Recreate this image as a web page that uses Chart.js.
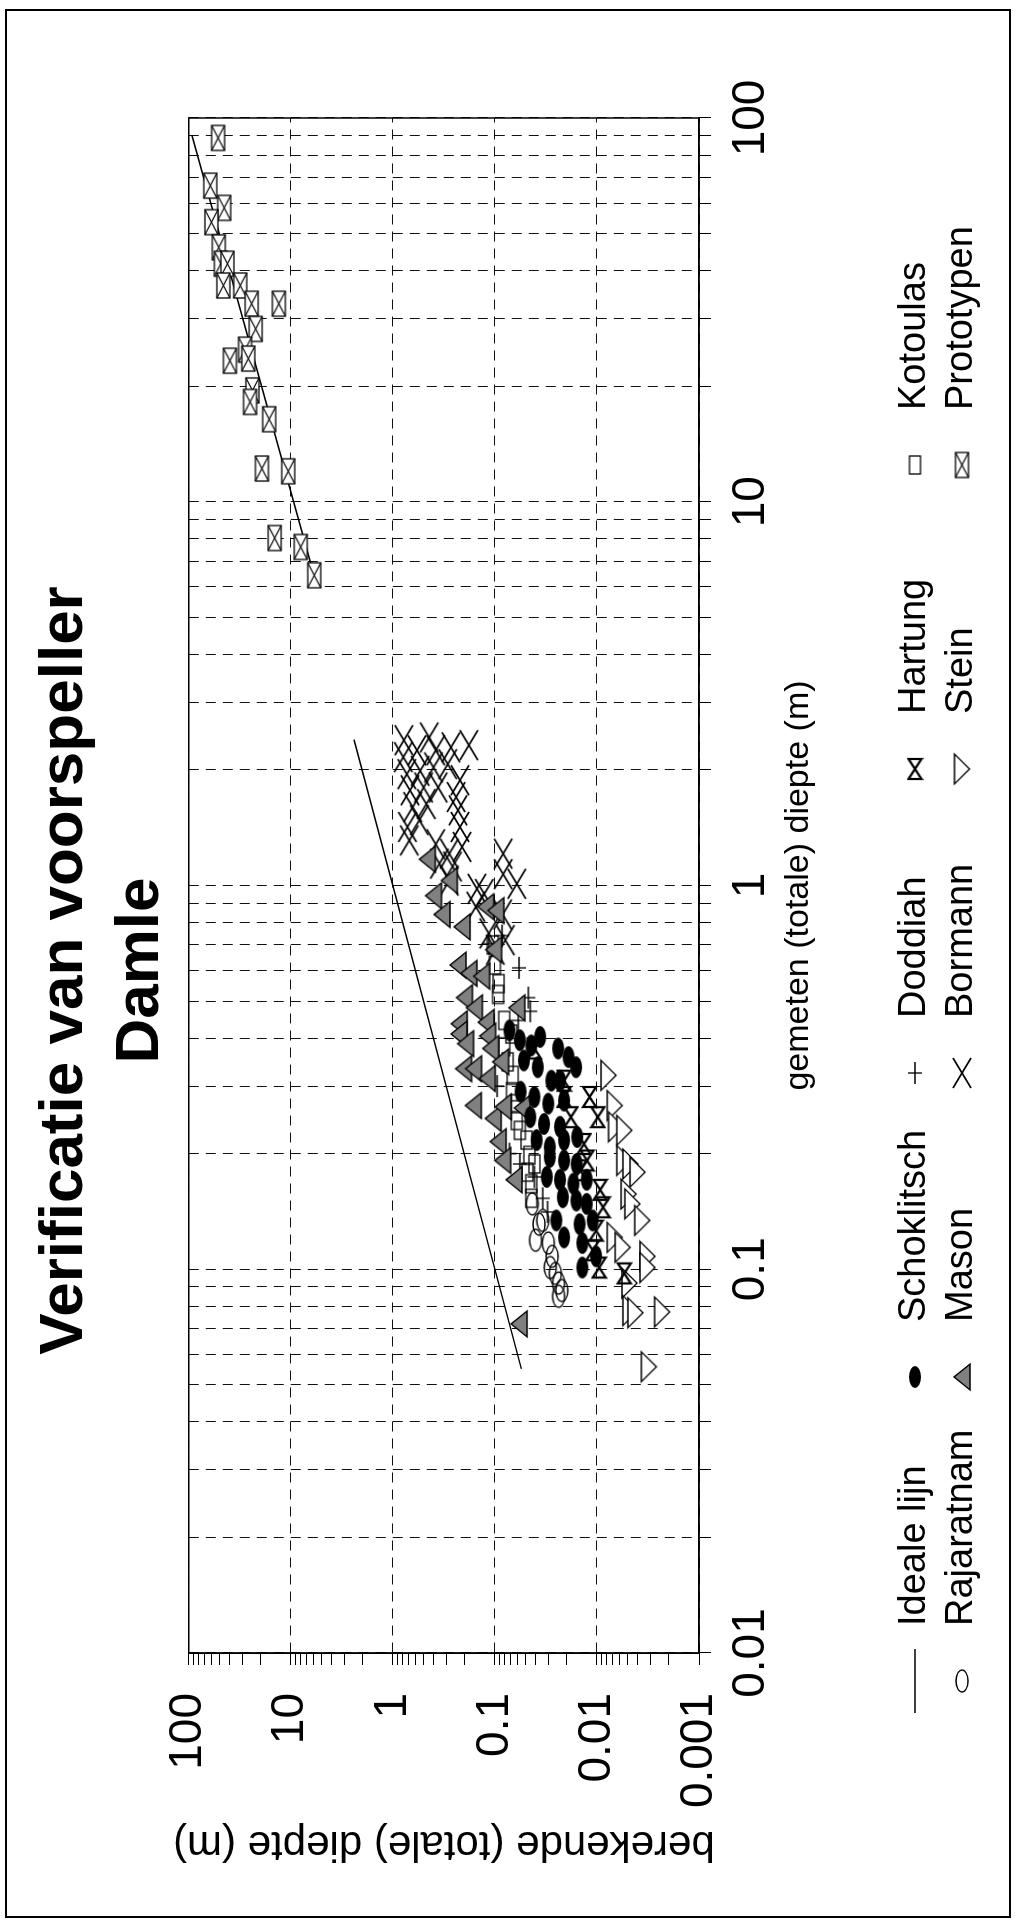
<!DOCTYPE html>
<html>
<head>
<meta charset="utf-8">
<script src="https://cdn.jsdelivr.net/npm/chart.js@4.4.0/dist/chart.umd.min.js"></script>
<style>
  html, body { margin: 0; padding: 0; background: #fff; overflow: hidden; }
  /* the chart is drawn landscape and turned a quarter to the left, like the scanned page */
  #page { position: absolute; left: 0; top: 0; width: 1923px; height: 1017px;
          transform-origin: 0 0; transform: translate(0, 1923px) rotate(-90deg); }
</style>
</head>
<body>
<div id="page"><canvas id="myChart" width="1923" height="1017"></canvas></div>
<script>
// axes
const xDecades = [0.01, 0.1, 1, 10, 100];
const xTickLabels = ['0.01', '0.1', '1', '10', '100'];
const yDecades = [0.001, 0.01, 0.1, 1, 10, 100];
const yTickLabels = ['0.001', '0.01', '0.1', '1', '10', '100'];
const minorSteps = [1, 2, 3, 4, 5, 6, 7, 8, 9];

// data (gemeten x, berekende y)
const idealeX = [0.055, 2.4];
const idealeY = [0.055, 2.4];

const rajaratnamX = [0.148, 0.131, 0.119, 0.117, 0.108, 0.0975, 0.092, 0.088, 0.085, 0.134, 0.101];
const rajaratnamY = [0.043, 0.037, 0.040, 0.030, 0.0275, 0.0256, 0.0238, 0.0221, 0.0238, 0.034, 0.0287];

const schoklitschX = [0.419, 0.395, 0.383, 0.403, 0.376, 0.357, 0.336, 0.35, 0.336, 0.31, 0.31, 0.29, 0.281, 0.27, 0.275,
  0.249, 0.239, 0.235, 0.217, 0.208, 0.217, 0.221, 0.196, 0.192, 0.188, 0.174, 0.171, 0.167, 0.171, 0.154, 0.151, 0.148,
  0.134, 0.121, 0.131, 0.134, 0.117, 0.101, 0.108];
const schoklitschY = [0.072, 0.057, 0.044, 0.036, 0.024, 0.019, 0.016, 0.052, 0.038, 0.028, 0.023, 0.056, 0.041, 0.030, 0.021,
  0.045, 0.033, 0.023, 0.039, 0.029, 0.021, 0.0156, 0.029, 0.021, 0.0158, 0.031, 0.023, 0.017, 0.0126, 0.0216, 0.0159, 0.0126,
  0.025, 0.021, 0.0148, 0.011, 0.0139, 0.0139, 0.0102];

const masonX = [1.17, 1.03, 0.94, 0.84, 0.78, 0.88, 0.86, 0.62, 0.68, 0.59, 0.58,
  0.51, 0.48, 0.436, 0.44, 0.48, 0.41, 0.387, 0.405, 0.376, 0.333, 0.333, 0.314, 0.347, 0.267, 0.247, 0.265, 0.263,
  0.215, 0.192, 0.171, 0.072];
const masonY = [0.46, 0.28, 0.40, 0.33, 0.21, 0.123, 0.098, 0.23, 0.103, 0.18, 0.135,
  0.199, 0.159, 0.224, 0.122, 0.061, 0.225, 0.194, 0.118, 0.11, 0.203, 0.162, 0.119, 0.088, 0.163, 0.104, 0.083, 0.054,
  0.093, 0.084, 0.065, 0.058];

const doddiahX = [0.74, 0.61, 0.705, 0.47, 0.30, 0.20, 0.188, 0.174, 0.153, 0.141, 0.51, 0.445];
const doddiahY = [0.085, 0.058, 0.115, 0.045, 0.095, 0.072, 0.057, 0.041, 0.034, 0.0305, 0.047, 0.059];

const bormannX = [2.39, 2.43, 2.16, 2.25, 2.25, 2.29, 2.32, 1.95, 1.99, 2.03, 2.07, 1.88, 1.77, 1.80, 1.80, 1.70, 1.60, 1.63,
  1.57, 1.42, 1.48, 1.42, 1.31, 1.28, 1.21, 1.26, 1.14, 1.12, 1.03, 0.98, 0.95, 1.21, 1.07, 1.01, 0.88, 0.84, 0.75, 0.72, 0.68];
const bormannY = [0.78, 0.44, 0.79, 0.58, 0.38, 0.27, 0.18, 0.73, 0.54, 0.40, 0.29, 0.22, 0.68, 0.50, 0.36, 0.24, 0.64, 0.47,
  0.23, 0.72, 0.55, 0.22, 0.69, 0.38, 0.28, 0.21, 0.35, 0.26, 0.28, 0.15, 0.127, 0.083, 0.083, 0.061, 0.154, 0.084, 0.115, 0.079, 0.099];

const hartungX = [0.281, 0.249, 0.212, 0.192, 0.161, 0.145, 0.126, 0.112, 0.101, 0.0975, 0.181, 0.31, 0.376, 0.281, 0.249];
const hartungY = [0.021, 0.018, 0.0134, 0.0125, 0.0093, 0.0087, 0.0102, 0.011, 0.0095, 0.0054, 0.0146, 0.021, 0.041, 0.0118, 0.0098];

const steinX = [0.32, 0.267, 0.235, 0.23, 0.192, 0.188, 0.179, 0.157, 0.148, 0.134, 0.121, 0.114, 0.108, 0.101, 0.092,
  0.078, 0.077, 0.0774, 0.0557];
const steinY = [0.0077, 0.0067, 0.0065, 0.0054, 0.0054, 0.0047, 0.004, 0.0049, 0.0045, 0.0036, 0.0067, 0.0056, 0.0032, 0.0032, 0.0048,
  0.0047, 0.0042, 0.0023, 0.0031];

const kotoulasX = [0.52, 0.445, 0.41, 0.38, 0.347, 0.32, 0.29, 0.27, 0.23, 0.217, 0.198, 0.188, 0.179, 0.167, 0.153, 0.244,
  0.70, 0.62, 0.555];
const kotoulasY = [0.093, 0.081, 0.069, 0.081, 0.075, 0.067, 0.068, 0.061, 0.057, 0.049, 0.046, 0.041, 0.048, 0.044, 0.044, 0.061,
  0.105, 0.10, 0.092];

const prototypenX = [88.7, 66.6, 58.3, 53.5, 46, 41.7, 41.7, 36.6, 36.6, 32.8, 32.8, 28.2, 23.3, 24.9, 23.6, 19.5, 18.2, 16.4,
  12.2, 12.0, 8.04, 7.62, 6.43];
const prototypenY = [51.6, 61.5, 45, 60, 50.8, 48.5, 41.8, 45.8, 31.3, 24.2, 13.1, 22.1, 39.5, 28.1, 26.1, 23.8, 25.1, 16.3,
  19.2, 10.6, 14.4, 8.0, 5.9];
const prototypenTrendX = [6.4, 90];
const prototypenTrendY = [5.9, 93];

// helpers
const pairs = (xs, ys) => xs.map((x, i) => ({ x: x, y: ys[i] }));
function logTicks(decades) {
  const max = decades[decades.length - 1];
  const out = [];
  decades.forEach(d => minorSteps.forEach(m => {
    const v = +(d * m).toPrecision(3);
    if (v <= max) out.push({ value: v, major: m === 1 });
  }));
  return out;
}
function decadeLabel(value, decades, labels) {
  const i = decades.findIndex(d => Math.abs(d - value) < d * 1e-6);
  return i >= 0 ? labels[i] : '';
}

// markers, drawn the way they lie before the page is turned
function makeMarker(w, h, draw) {
  const c = document.createElement('canvas');
  c.width = w + 4;
  c.height = h + 4;
  const g = c.getContext('2d');
  g.translate(c.width / 2, c.height / 2);
  g.strokeStyle = '#000';
  g.fillStyle = '#000';
  g.lineWidth = 1.3;
  draw(g, w / 2, h / 2);
  return c;
}
const markers = {
  dot: makeMarker(22, 12, (g, a, b) => { g.beginPath(); g.ellipse(0, 0, a, b, 0, 0, Math.PI * 2); g.fill(); }),
  ring: makeMarker(24, 14, (g, a, b) => { g.beginPath(); g.ellipse(0, 0, a - 1, b - 1, 0, 0, Math.PI * 2); g.stroke(); }),
  shaded: makeMarker(26, 16, (g, a, b) => {
    g.beginPath(); g.moveTo(0, -b); g.lineTo(a, b); g.lineTo(-a, b); g.closePath();
    g.fillStyle = '#808080'; g.fill(); g.stroke();
  }),
  plus: makeMarker(22, 14, (g, a, b) => { g.beginPath(); g.moveTo(-a, 0); g.lineTo(a, 0); g.moveTo(0, -b); g.lineTo(0, b); g.stroke(); }),
  cross: makeMarker(30, 18, (g, a, b) => {
    g.lineWidth = 1.7;
    g.beginPath(); g.moveTo(-a, -b); g.lineTo(a, b); g.moveTo(a, -b); g.lineTo(-a, b); g.stroke();
  }),
  bowtie: makeMarker(20, 13, (g, a, b) => {
    g.lineWidth = 2.2;
    g.beginPath(); g.moveTo(-a, -b); g.lineTo(a, b); g.lineTo(a, -b); g.lineTo(-a, b); g.closePath(); g.stroke();
  }),
  openTri: makeMarker(30, 15, (g, a, b) => {
    g.beginPath(); g.moveTo(-a, -b); g.lineTo(a, -b); g.lineTo(0, b); g.closePath();
    g.fillStyle = '#fff'; g.fill(); g.stroke();
  }),
  square: makeMarker(18, 11, (g, a, b) => { g.strokeRect(-a, -b, 2 * a, 2 * b); }),
  boxCross: makeMarker(25, 13, (g, a, b) => {
    g.fillStyle = '#fff'; g.fillRect(-a, -b, 2 * a, 2 * b); g.strokeRect(-a, -b, 2 * a, 2 * b);
    g.beginPath(); g.moveTo(-a, -b); g.lineTo(a, b); g.moveTo(a, -b); g.lineTo(-a, b); g.stroke();
  })
};

const fontFamily = '"Liberation Sans", Arial, sans-serif';
Chart.defaults.font.family = fontFamily;
Chart.defaults.color = '#000';

// legend in two rows, filled column by column
const columnLegend = {
  id: 'columnLegend',
  afterDraw(chart) {
    const c = chart.ctx;
    const items = chart.data.datasets.filter(d => !d.noLegend);
    c.save();
    c.font = '38px ' + fontFamily;
    c.textBaseline = 'middle';
    c.fillStyle = '#000';
    items.forEach((ds, i) => {
      const sx = 242 + Math.floor(i / 2) * 304;
      const sy = i % 2 === 0 ? 915 : 962;
      if (ds.showLine) {
        c.strokeStyle = '#000';
        c.lineWidth = 1.5;
        c.beginPath(); c.moveTo(sx - 32, sy); c.lineTo(sx + 32, sy); c.stroke();
      } else {
        const img = ds.pointStyle;
        c.drawImage(img, sx - img.width / 2, sy - img.height / 2);
      }
      c.fillText(ds.label, sx + 55, sy);
    });
    c.restore();
  }
};

// plot box and page frame
const frames = {
  id: 'frames',
  afterDraw(chart) {
    const c = chart.ctx;
    const a = chart.chartArea;
    c.save();
    c.strokeStyle = '#000';
    c.lineWidth = 1.5;
    c.strokeRect(a.left, a.top, a.right - a.left, a.bottom - a.top);
    c.lineWidth = 2;
    c.strokeRect(6, 6, 1907, 1004);
    c.restore();
  }
};

const ctx = document.getElementById('myChart').getContext('2d');
const myChart = new Chart(ctx, {
  type: 'scatter',
  data: {
    datasets: [
      { label: 'Ideale lijn', data: pairs(idealeX, idealeY), showLine: true, pointRadius: 0, borderColor: '#000', borderWidth: 1.5 },
      { label: 'Rajaratnam', data: pairs(rajaratnamX, rajaratnamY), pointStyle: markers.ring },
      { label: 'Schoklitsch', data: pairs(schoklitschX, schoklitschY), pointStyle: markers.dot },
      { label: 'Mason', data: pairs(masonX, masonY), pointStyle: markers.shaded },
      { label: 'Doddiah', data: pairs(doddiahX, doddiahY), pointStyle: markers.plus },
      { label: 'Bormann', data: pairs(bormannX, bormannY), pointStyle: markers.cross },
      { label: 'Hartung', data: pairs(hartungX, hartungY), pointStyle: markers.bowtie },
      { label: 'Stein', data: pairs(steinX, steinY), pointStyle: markers.openTri },
      { label: 'Kotoulas', data: pairs(kotoulasX, kotoulasY), pointStyle: markers.square },
      { label: 'Prototypen', data: pairs(prototypenX, prototypenY), pointStyle: markers.boxCross },
      { label: 'Prototypen trend', data: pairs(prototypenTrendX, prototypenTrendY), showLine: true, pointRadius: 0,
        borderColor: '#000', borderWidth: 1.5, noLegend: true }
    ]
  },
  options: {
    responsive: false,
    devicePixelRatio: 1,
    animation: false,
    events: [],
    layout: { padding: { left: 0, right: 18, top: 0, bottom: 0 } },
    plugins: {
      legend: { display: false },
      tooltip: { enabled: false },
      title: {
        display: true,
        text: ['Verificatie van voorspeller', 'Damle'],
        font: { size: 62, weight: 'bold', lineHeight: 1.24 },
        color: '#000',
        padding: { top: 26, bottom: 9 }
      }
    },
    scales: {
      x: {
        type: 'logarithmic',
        position: 'bottom',
        min: 0.01,
        max: 100,
        afterBuildTicks: scale => { scale.ticks = logTicks(xDecades); },
        afterFit: scale => { scale.height = 318; },
        ticks: {
          autoSkip: false,
          maxRotation: 0,
          padding: 13,
          font: { size: 46 },
          callback: v => decadeLabel(v, xDecades, xTickLabels)
        },
        grid: { color: '#111', lineWidth: 1, tickColor: '#000', tickLength: 12 },
        border: { display: true, color: '#000', width: 1.5, dash: [10, 7] },
        title: { display: true, text: 'gemeten (totale) diepte (m)', font: { size: 34 }, padding: { top: 0, bottom: 198 } }
      },
      y: {
        type: 'logarithmic',
        position: 'left',
        min: 0.001,
        max: 100,
        afterBuildTicks: scale => { scale.ticks = logTicks(yDecades); },
        afterFit: scale => { scale.width = 270; },
        ticks: {
          autoSkip: false,
          padding: 28,
          font: { size: 46 },
          callback: v => decadeLabel(v, yDecades, yTickLabels)
        },
        grid: {
          color: c => (c.tick && c.tick.major ? '#111' : 'rgba(0,0,0,0)'),
          lineWidth: 1,
          tickColor: '#000',
          tickLength: 12
        },
        border: { display: true, color: '#000', width: 1.5, dash: [10, 7] },
        title: { display: true, text: 'berekende (totale) diepte (m)', font: { size: 42 }, padding: { top: 54, bottom: 0 } }
      },
      // empty strip on the right, keeps the plot edge where the scan has it
      rightStrip: {
        type: 'linear',
        position: 'right',
        display: true,
        afterFit: scale => { scale.width = 100; },
        ticks: { display: false },
        grid: { display: false },
        border: { display: false }
      }
    }
  },
  plugins: [columnLegend, frames]
});
</script>
</body>
</html>
